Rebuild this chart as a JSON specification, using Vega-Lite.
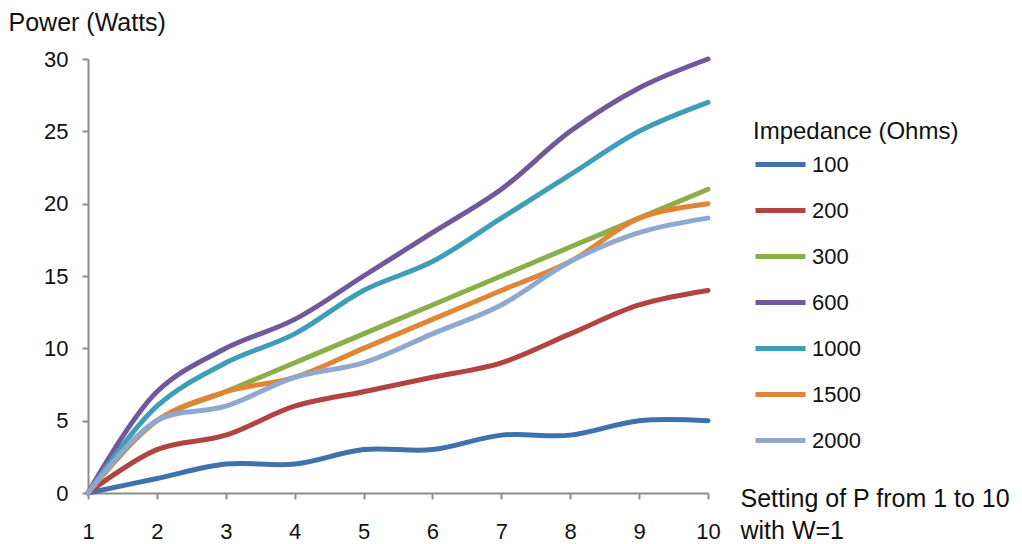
{
  "$schema": "https://vega.github.io/schema/vega-lite/v6.json",
  "autosize": {"type": "none"},
  "width": 620,
  "height": 434,
  "padding": {"left": 88, "top": 59, "right": 314, "bottom": 51},
  "background": "white",
  "config": {
    "view": {"stroke": null},
    "font": "Liberation Sans"
  },
  "data": {
    "values": [
      {"p": 1, "ohm": "100", "w": 0}, {"p": 2, "ohm": "100", "w": 1}, {"p": 3, "ohm": "100", "w": 2}, {"p": 4, "ohm": "100", "w": 2}, {"p": 5, "ohm": "100", "w": 3}, {"p": 6, "ohm": "100", "w": 3}, {"p": 7, "ohm": "100", "w": 4}, {"p": 8, "ohm": "100", "w": 4}, {"p": 9, "ohm": "100", "w": 5}, {"p": 10, "ohm": "100", "w": 5},
      {"p": 1, "ohm": "200", "w": 0}, {"p": 2, "ohm": "200", "w": 3}, {"p": 3, "ohm": "200", "w": 4}, {"p": 4, "ohm": "200", "w": 6}, {"p": 5, "ohm": "200", "w": 7}, {"p": 6, "ohm": "200", "w": 8}, {"p": 7, "ohm": "200", "w": 9}, {"p": 8, "ohm": "200", "w": 11}, {"p": 9, "ohm": "200", "w": 13}, {"p": 10, "ohm": "200", "w": 14},
      {"p": 1, "ohm": "300", "w": 0}, {"p": 2, "ohm": "300", "w": 5}, {"p": 3, "ohm": "300", "w": 7}, {"p": 4, "ohm": "300", "w": 9}, {"p": 5, "ohm": "300", "w": 11}, {"p": 6, "ohm": "300", "w": 13}, {"p": 7, "ohm": "300", "w": 15}, {"p": 8, "ohm": "300", "w": 17}, {"p": 9, "ohm": "300", "w": 19}, {"p": 10, "ohm": "300", "w": 21},
      {"p": 1, "ohm": "600", "w": 0}, {"p": 2, "ohm": "600", "w": 7}, {"p": 3, "ohm": "600", "w": 10}, {"p": 4, "ohm": "600", "w": 12}, {"p": 5, "ohm": "600", "w": 15}, {"p": 6, "ohm": "600", "w": 18}, {"p": 7, "ohm": "600", "w": 21}, {"p": 8, "ohm": "600", "w": 25}, {"p": 9, "ohm": "600", "w": 28}, {"p": 10, "ohm": "600", "w": 30},
      {"p": 1, "ohm": "1000", "w": 0}, {"p": 2, "ohm": "1000", "w": 6}, {"p": 3, "ohm": "1000", "w": 9}, {"p": 4, "ohm": "1000", "w": 11}, {"p": 5, "ohm": "1000", "w": 14}, {"p": 6, "ohm": "1000", "w": 16}, {"p": 7, "ohm": "1000", "w": 19}, {"p": 8, "ohm": "1000", "w": 22}, {"p": 9, "ohm": "1000", "w": 25}, {"p": 10, "ohm": "1000", "w": 27},
      {"p": 1, "ohm": "1500", "w": 0}, {"p": 2, "ohm": "1500", "w": 5}, {"p": 3, "ohm": "1500", "w": 7}, {"p": 4, "ohm": "1500", "w": 8}, {"p": 5, "ohm": "1500", "w": 10}, {"p": 6, "ohm": "1500", "w": 12}, {"p": 7, "ohm": "1500", "w": 14}, {"p": 8, "ohm": "1500", "w": 16}, {"p": 9, "ohm": "1500", "w": 19}, {"p": 10, "ohm": "1500", "w": 20},
      {"p": 1, "ohm": "2000", "w": 0}, {"p": 2, "ohm": "2000", "w": 5}, {"p": 3, "ohm": "2000", "w": 6}, {"p": 4, "ohm": "2000", "w": 8}, {"p": 5, "ohm": "2000", "w": 9}, {"p": 6, "ohm": "2000", "w": 11}, {"p": 7, "ohm": "2000", "w": 13}, {"p": 8, "ohm": "2000", "w": 16}, {"p": 9, "ohm": "2000", "w": 18}, {"p": 10, "ohm": "2000", "w": 19}
    ]
  },
  "mark": {"type": "line", "interpolate": "catmull-rom", "strokeWidth": 5, "strokeCap": "round"},
  "encoding": {
    "x": {
      "field": "p", "type": "quantitative",
      "scale": {"domain": [1, 10], "nice": false, "zero": false},
      "axis": {
        "values": [1, 2, 3, 4, 5, 6, 7, 8, 9, 10],
        "grid": false,
        "domainColor": "#8c8c8c", "domainWidth": 2,
        "tickColor": "#8c8c8c", "tickWidth": 2, "tickSize": 6,
        "labelFontSize": 22, "labelColor": "#111", "labelPadding": 22,
        "labelFlush": false,
        "title": ["Setting of P from 1 to 10", "with W=1"],
        "titleFontSize": 25, "titleFontWeight": "normal", "titleColor": "#111",
        "titleAlign": "left", "titleBaseline": "alphabetic",
        "titleX": 652, "titleY": 13, "titleLineHeight": 32
      }
    },
    "y": {
      "field": "w", "type": "quantitative",
      "scale": {"domain": [0, 30], "nice": false},
      "axis": {
        "values": [0, 5, 10, 15, 20, 25, 30],
        "grid": false,
        "domainColor": "#8c8c8c", "domainWidth": 2,
        "tickColor": "#8c8c8c", "tickWidth": 2, "tickSize": 6,
        "labelFontSize": 22, "labelColor": "#111", "labelPadding": 14,
        "title": "Power (Watts)",
        "titleFontSize": 25, "titleFontWeight": "normal", "titleColor": "#111",
        "titleAngle": 0, "titleAlign": "left", "titleBaseline": "middle",
        "titleX": -80, "titleY": -37
      }
    },
    "color": {
      "field": "ohm", "type": "nominal",
      "sort": ["100", "200", "300", "600", "1000", "1500", "2000"],
      "scale": {
        "domain": ["100", "200", "300", "600", "1000", "1500", "2000"],
        "range": ["#3f72ad", "#b14341", "#8aaf4a", "#70589a", "#3e9eb8", "#e08436", "#8fa8cf"]
      },
      "legend": {
        "orient": "none", "legendX": 665, "legendY": 61,
        "title": "Impedance (Ohms)", "titleLimit": 400,
        "titleFontSize": 24, "titleFontWeight": "normal", "titleColor": "#111",
        "titlePadding": -7,
        "labelFontSize": 22, "labelColor": "#111",
        "symbolType": "stroke", "symbolSize": 2500, "symbolStrokeWidth": 5,
        "labelOffset": 4, "rowPadding": 7
      }
    }
  }
}
